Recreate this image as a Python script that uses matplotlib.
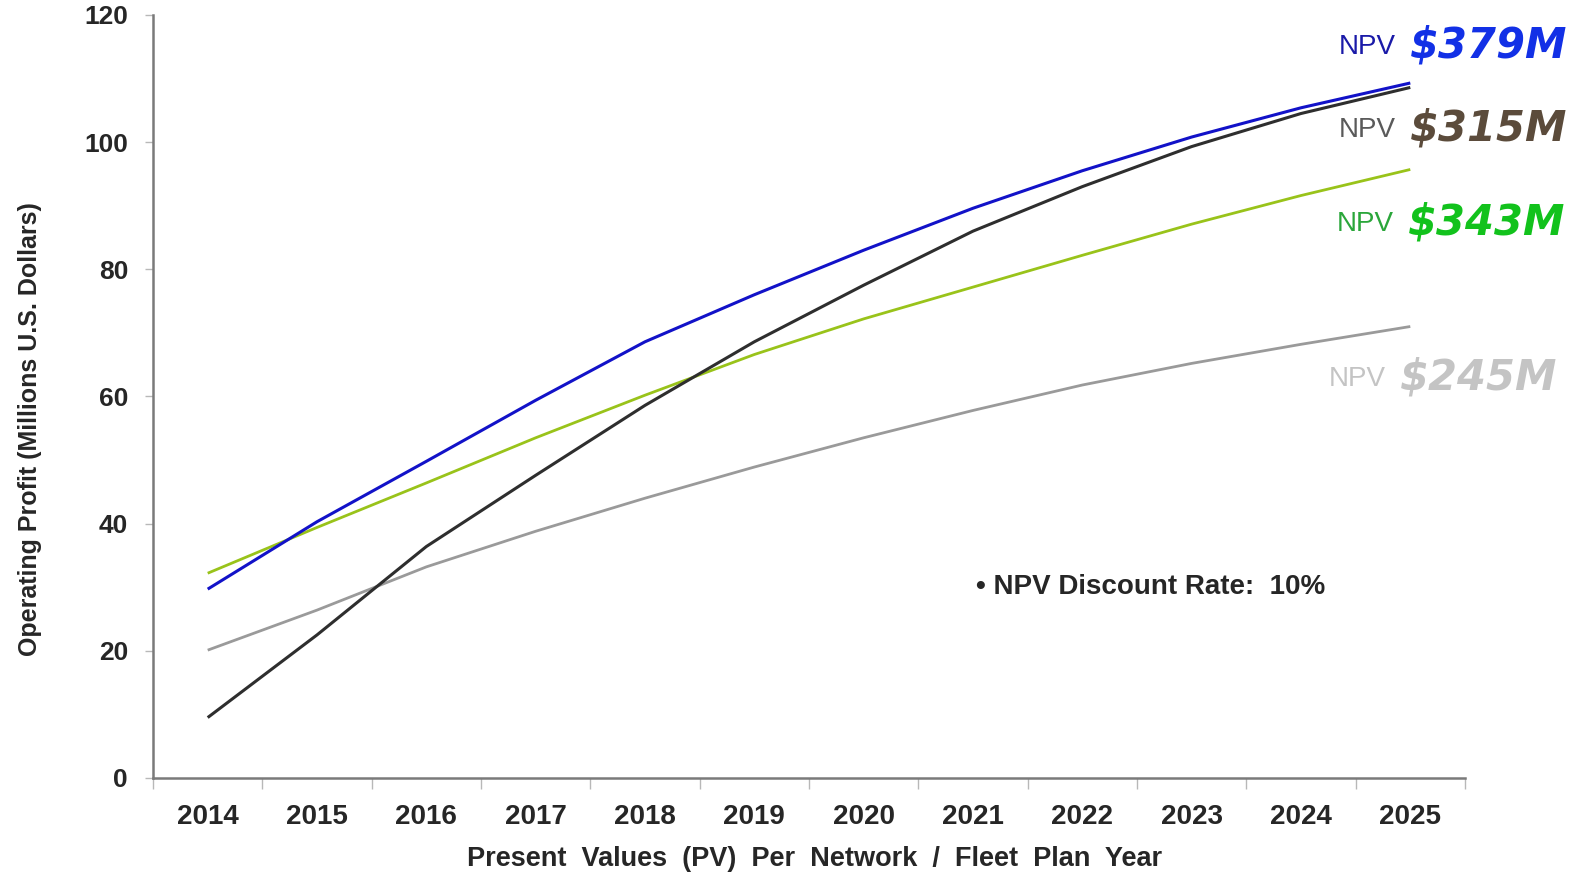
import matplotlib
matplotlib.use('Agg')
import matplotlib.pyplot as plt
import numpy as np

# data
years = ['2014', '2015', '2016', '2017', '2018', '2019',
         '2020', '2021', '2022', '2023', '2024', '2025']
profit_blue = [29.7, 40.3, 49.8, 59.4, 68.6, 76.0, 83.0, 89.6, 95.5, 100.8, 105.4, 109.3]
profit_black = [9.5, 22.5, 36.4, 47.6, 58.6, 68.6, 77.5, 86.0, 93.0, 99.3, 104.5, 108.6]
profit_green = [32.2, 39.4, 46.4, 53.5, 60.2, 66.6, 72.2, 77.2, 82.2, 87.1, 91.6, 95.7]
profit_gray = [20.1, 26.4, 33.2, 38.8, 44.0, 48.9, 53.5, 57.8, 61.8, 65.2, 68.2, 71.0]
npv_labels = ['$379M', '$315M', '$343M', '$245M']

colors = {
    'blue': '#1212c8',
    'black': '#2e2e2e',
    'green': '#99c31a',
    'gray': '#9a9a9a',
    'axis': '#7a7a7a',
    'text': '#262626',
}

plain = ['Liberation Sans', 'DejaVu Sans']

fig = plt.figure(figsize=(15.81, 8.75), dpi=100, facecolor='white')
ax = fig.add_axes([0.0968, 0.1109, 0.8298, 0.8720])

x = np.arange(len(years))
ax.plot(x, profit_gray, color=colors['gray'], linewidth=2.0, solid_capstyle='butt')
ax.plot(x, profit_green, color=colors['green'], linewidth=2.0, solid_capstyle='butt')
ax.plot(x, profit_black, color=colors['black'], linewidth=2.2, solid_capstyle='butt')
ax.plot(x, profit_blue, color=colors['blue'], linewidth=2.2, solid_capstyle='butt')

ax.set_xlim(-0.5, len(years) - 0.5)
ax.set_ylim(0, 120)

# ticks at category boundaries, labels centred on categories
ax.set_xticks(np.arange(-0.5, len(years), 1.0))
ax.set_xticklabels([])
ax.set_xticks(x, minor=True)
ax.set_xticklabels(years, minor=True, family=plain, fontweight='bold',
                   fontsize=20, color=colors['text'])
ax.tick_params(axis='x', which='major', length=8, width=1, color='#b8b8b8', direction='out')
ax.tick_params(axis='x', which='minor', length=0, pad=19)

ax.set_yticks(np.arange(0, 121, 20))
ax.set_yticklabels([str(v) for v in range(0, 121, 20)], family=plain,
                   fontweight='bold', fontsize=19, color=colors['text'])
ax.tick_params(axis='y', length=6, width=1, color='#b8b8b8', direction='out', pad=12)

for side in ['top', 'right']:
    ax.spines[side].set_visible(False)
for side in ['left', 'bottom']:
    ax.spines[side].set_color(colors['axis'])
    ax.spines[side].set_linewidth(1.8)

ax.set_xlabel('Present  Values  (PV)  Per  Network  /  Fleet  Plan  Year', family=plain,
              fontweight='bold', fontsize=19.5, color=colors['text'])
ax.xaxis.set_label_coords(0.504, -0.106)
ax.xaxis.label.set_va('center')

ax.set_ylabel('Operating Profit (Millions U.S. Dollars)', family=plain,
              fontweight='bold', fontsize=18, color=colors['text'])
ax.yaxis.set_label_coords(-0.094, 0.457)
ax.yaxis.label.set_va('center')

fig.text(976 / 1581, 1 - 587 / 875, '\u2022 NPV Discount Rate:  10%', family=plain,
         fontweight='bold', fontsize=20, color=colors['text'], ha='left', va='center')

# NPV labels on the right
label_y = [45, 128, 222, 377]
label_right = [1567, 1567, 1565, 1557]
npv_colors = ['#1230e6', '#5b4b3b', '#12c21c', '#c4c4c4']
small_colors = ['#1a1aa8', '#5a5a5a', '#2aa63a', '#c4c4c4']

fig.canvas.draw()
renderer = fig.canvas.get_renderer()
for lab, yy, xr, c_big, c_small in zip(npv_labels, label_y, label_right, npv_colors, small_colors):
    big = fig.text(xr / 1581, 1 - yy / 875, lab, family=['DejaVu Sans'], fontweight='bold',
                   fontstyle='italic', fontsize=30, color=c_big, ha='right', va='center')
    bb = big.get_window_extent(renderer)
    fig.text((bb.x0 - 14) / 1581, 1 - (yy + 2) / 875, 'NPV', family=plain, fontsize=20,
             color=c_small, ha='right', va='center')

fig.savefig('out.png', dpi=100, facecolor='white')
